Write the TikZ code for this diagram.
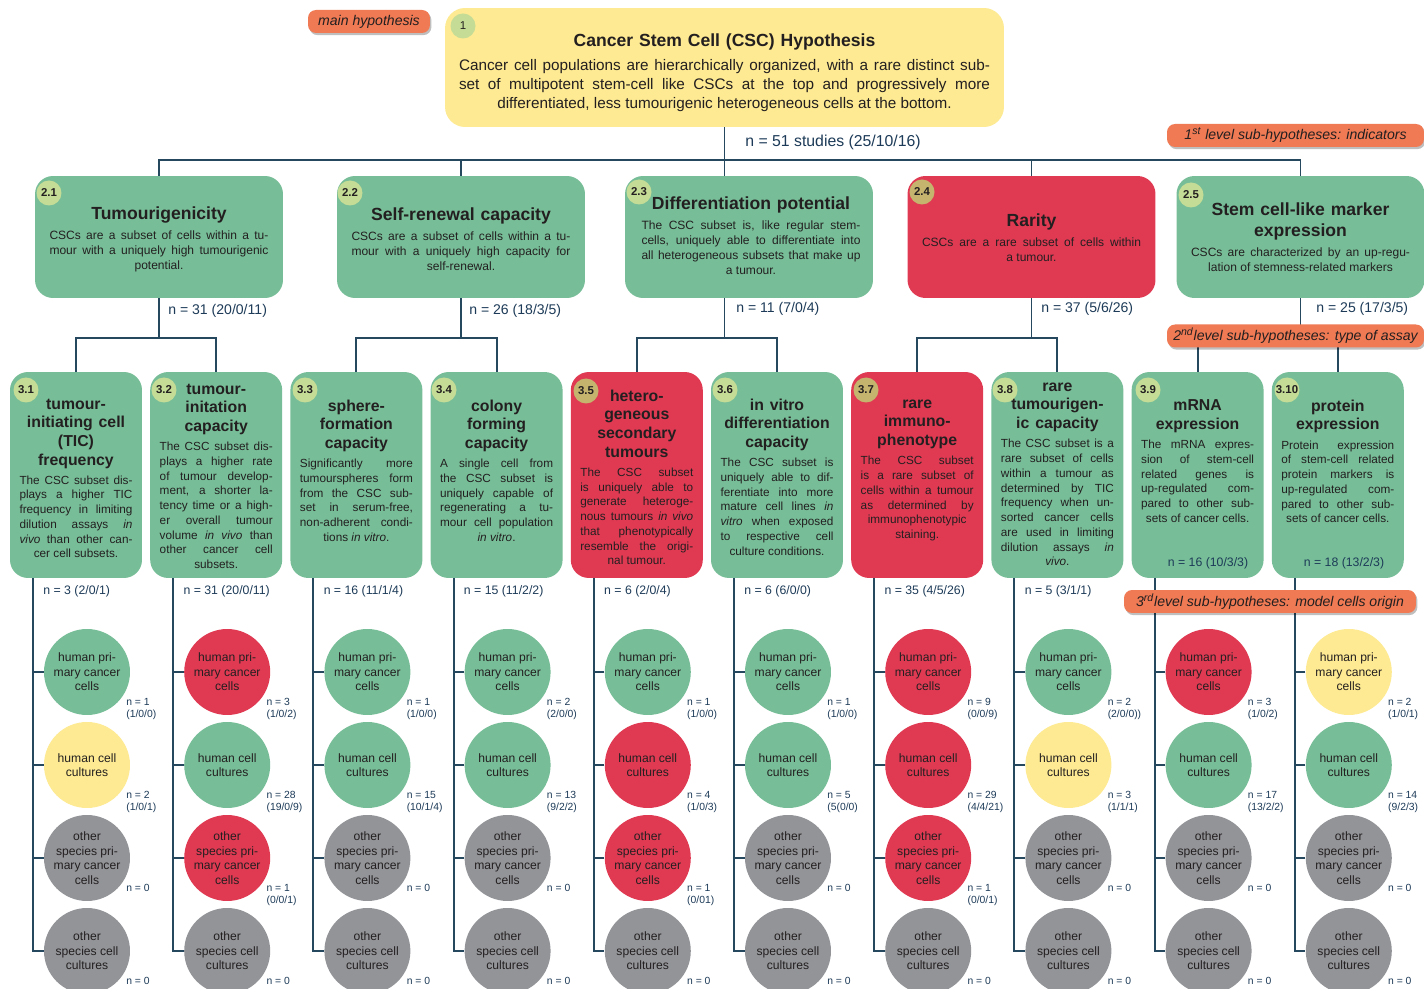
\documentclass[tikz,border=0pt]{standalone}
\usepackage{fontspec}
\setmainfont{Liberation Sans}
\usetikzlibrary{shadows}

\definecolor{support}{HTML}{77BE98}
\definecolor{reject}{HTML}{E03A53}
\definecolor{mixed}{HTML}{FDEA92}
\definecolor{nodata}{HTML}{939498}
\definecolor{badgeg}{HTML}{C5DC96}
\definecolor{badger}{HTML}{C4B46E}
\definecolor{tagfill}{HTML}{EF7A54}
\definecolor{linkc}{HTML}{26485E}
\definecolor{counttext}{HTML}{1D3B58}
\definecolor{inktext}{HTML}{231F20}

% justified lines, last line centred
\newcommand{\justlast}{\parindent=0pt\tolerance=9999\spaceskip=.278em plus .6em minus .12em\leftskip=0pt plus .5fil\rightskip=0pt plus -.5fil\parfillskip=0pt plus 1fil\relax}
\newcommand{\lvone}[2]{\parindent=0pt{\fontsize{10}{12}\bfseries\selectfont #1\par}\vspace{2.8pt}{\fontsize{8.7}{10.8}\selectfont\justlast #2\par}}
\newcommand{\lvtwo}[2]{\parindent=0pt{\fontsize{10}{11.9}\bfseries\selectfont #1\par}\vspace{3pt}{\fontsize{6.85}{8.5}\selectfont\justlast #2\par}}
\newcommand{\lvthree}[2]{\parindent=0pt{\fontsize{9}{10.6}\bfseries\selectfont #1\par}\vspace{2.5pt}{\fontsize{6.7}{8.4}\selectfont\justlast #2\par}}

\begin{document}
\begin{tikzpicture}[x=0.02cm, y=-0.02cm,
  link/.style={draw=linkc, line width=1.1pt},
  mainbox/.style={fill=mixed, rounded corners=0.4cm, minimum width=11.18cm, minimum height=2.38cm, inner sep=0},
  hypbox/.style={fill=support, rounded corners=0.36cm, minimum width=4.96cm, minimum height=2.44cm, inner sep=0},
  subbox/.style={fill=support, rounded corners=0.36cm, minimum width=2.64cm, minimum height=4.12cm, inner sep=0},
  boxtxt/.style={text=inktext, align=center, inner sep=0, anchor=north},
  badge/.style={circle, fill=badgeg, minimum size=0.5cm, inner sep=0, text=inktext, font=\fontsize{6.5}{7}\bfseries\selectfont},
  cell/.style={circle, minimum size=1.72cm, inner sep=0, align=center, text=inktext, font=\fontsize{6.9}{8.3}\selectfont},
  count/.style={text=counttext, inner sep=0, anchor=north west, align=left, font=\fontsize{5.9}{6.8}\selectfont},
  ntwo/.style={text=counttext, inner sep=0, anchor=west, font=\fontsize{8}{9}\selectfont},
  nthree/.style={text=counttext, inner sep=0, anchor=west, font=\fontsize{7}{8}\selectfont},
  tag/.style={fill=tagfill, rounded corners=0.16cm, minimum height=0.46cm, inner sep=0, text=inktext,
    font=\fontsize{8}{9}\itshape\selectfont, drop shadow={shadow xshift=0.8pt, shadow yshift=-1.2pt, fill=black, opacity=0.25}}]

\fill[white] (0,0) rectangle (1424,989);
\useasboundingbox (0,0) rectangle (1424,989);

\node[mainbox] (main) at (724.5,67.5) {};
\node[badge, font=\fontsize{6.5}{7}\selectfont] (g1) at (463,26) {1};
\node[boxtxt, text width=10.62cm] (t1) at (724.5,33.5) {\lvone{Cancer Stem Cell (CSC) Hypothesis}{Cancer cell populations are hierarchically organized, with a rare distinct sub-\linebreak set of multipotent stem-cell like CSCs at the top and progressively more\linebreak differentiated, less tumourigenic heterogeneous cells at the bottom.}};
\node[ntwo, font=\fontsize{9}{10}\selectfont] (n1) at (745,142) {n = 51 studies (25/10/16)};

\node[hypbox] (b21) at (159,237) {};
\node[hypbox] (b22) at (461,237) {};
\node[hypbox] (b23) at (749,237) {};
\node[hypbox, fill=reject] (b24) at (1031.5,237) {};
\node[hypbox] (b25) at (1300.5,237) {};

\node[badge] (g21) at (49,193) {2.1};
\node[badge] (g22) at (350,193) {2.2};
\node[badge] (g23) at (639,192) {2.3};
\node[badge, fill=badger] (g24) at (922,192) {2.4};
\node[badge] (g25) at (1191,195) {2.5};

\node[boxtxt, text width=4.38cm] (t21) at (159,206.5) {\lvtwo{Tumourigenicity}{CSCs are a subset of cells within a tu-\linebreak mour with a uniquely high tumourigenic\linebreak potential.}};
\node[boxtxt, text width=4.38cm] (t22) at (461,207.5) {\lvtwo{Self-renewal capacity}{CSCs are a subset of cells within a tu-\linebreak mour with a uniquely high capacity for\linebreak self-renewal.}};
\node[boxtxt, text width=4.38cm] (t23) at (751,196.5) {\lvtwo{Differentiation potential}{The CSC subset is, like regular stem-\linebreak cells, uniquely able to differentiate into\linebreak all heterogeneous subsets that make up\linebreak a tumour.}};
\node[boxtxt, text width=4.38cm] (t24) at (1031.5,213.5) {\lvtwo{Rarity}{CSCs are a rare subset of cells within\linebreak a tumour.}};
\node[boxtxt, text width=4.38cm] (t25) at (1300.5,202.5) {\lvtwo{Stem cell-like marker\\expression}{CSCs are characterized by an up-regu-\linebreak lation of stemness-related markers}};

\draw[link] (main.south) -- (main.south |- b23.north);
\draw[link] (main.south |- 0,160) coordinate (hub);
\draw[link] (b21.north) |- (hub) -| (b25.north);
\draw[link] (b22.north) -- (b22.north |- hub);
\draw[link] (b24.north) -- (b24.north |- hub);

\node[ntwo] (n21) at (168,311) {n = 31 (20/0/11)};
\node[ntwo] (n22) at (469,311) {n = 26 (18/3/5)};
\node[ntwo] (n23) at (736,309) {n = 11 (7/0/4)};
\node[ntwo] (n24) at (1041,309) {n = 37 (5/6/26)};
\node[ntwo] (n25) at (1316,309) {n = 25 (17/3/5)};

\node[subbox] (b31) at (76,475) {};
\node[subbox] (b32) at (216.2,475) {};
\node[subbox] (b33) at (356.4,475) {};
\node[subbox] (b34) at (496.6,475) {};
\node[subbox, fill=reject] (b35) at (636.8,475) {};
\node[subbox] (b36) at (777,475) {};
\node[subbox, fill=reject] (b37) at (917.2,475) {};
\node[subbox] (b38) at (1057.4,475) {};
\node[subbox] (b39) at (1197.6,475) {};
\node[subbox] (b310) at (1337.8,475) {};

\draw[link] (b21.south) -- (b21.south |- 0,338) coordinate (j1);
\draw[link] (b31.north) |- (j1) -| (b32.north);
\draw[link] (b22.south) -- (b22.south |- 0,338) coordinate (j2);
\draw[link] (b33.north) |- (j2) -| (b34.north);
\draw[link] (main.south |- b23.south) -- (main.south |- 0,338) coordinate (j3);
\draw[link] (b35.north) |- (j3) -| (b36.north);
\draw[link] (b24.south) -- (b24.south |- 0,338) coordinate (j4);
\draw[link] (b37.north) |- (j4) -| (b38.north);
\draw[link] (b25.south) -- (b25.south |- 0,338) coordinate (j5);
\draw[link] (b39.north) |- (j5) -| (b310.north);

\node[badge] (g31) at (26,390) {3.1};
\node[badge] (g32) at (164,390) {3.2};
\node[badge] (g33) at (305,390) {3.3};
\node[badge] (g34) at (444,390) {3.4};
\node[badge, fill=badger] (g35) at (586,391) {3.5};
\node[badge] (g36) at (725,390) {3.6};
\node[badge, fill=badger] (g37) at (866,390) {3.7};
\node[badge] (g38) at (1005,390) {3.8};
\node[badge] (g39) at (1148,390) {3.9};
\node[badge] (g310) at (1287,390) {3.10};

\node[boxtxt, text width=2.26cm] (t31) at (76,398.5) {\lvthree{tumour-\\initiating cell\\(TIC)\\frequency}{The CSC subset dis-\linebreak plays a higher TIC\linebreak frequency in limiting\linebreak dilution assays \emph{in}\linebreak \emph{vivo} than other can-\linebreak cer cell subsets.}};
\node[boxtxt, text width=2.26cm] (t32) at (216.2,383.5) {\lvthree{tumour-\\initation\\capacity}{The CSC subset dis-\linebreak plays a higher rate\linebreak of tumour develop-\linebreak ment, a shorter la-\linebreak tency time or a high-\linebreak er overall tumour\linebreak volume \emph{in vivo} than\linebreak other cancer cell\linebreak subsets.}};
\node[boxtxt, text width=2.26cm] (t33) at (356.4,399.5) {\lvthree{sphere-\\formation\\capacity}{Significantly more\linebreak tumourspheres form\linebreak from the CSC sub-\linebreak set in serum-free,\linebreak non-adherent condi-\linebreak tions \emph{in vitro}.}};
\node[boxtxt, text width=2.26cm] (t34) at (496.6,399.5) {\lvthree{colony\\forming\\capacity}{A single cell from\linebreak the CSC subset is\linebreak uniquely capable of\linebreak regenerating a tu-\linebreak mour cell population\linebreak \emph{in vitro}.}};
\node[boxtxt, text width=2.26cm] (t35) at (636.8,389.5) {\lvthree{hetero-\\geneous\\secondary\\tumours}{The CSC subset\linebreak is uniquely able to\linebreak generate heteroge-\linebreak nous tumours \emph{in vivo}\linebreak that phenotypically\linebreak resemble the origi-\linebreak nal tumour.}};
\node[boxtxt, text width=2.26cm] (t36) at (777,398.5) {\lvthree{in vitro\\differentiation\\capacity}{The CSC subset is\linebreak uniquely able to dif-\linebreak ferentiate into more\linebreak mature cell lines \emph{in}\linebreak \emph{vitro} when exposed\linebreak to respective cell\linebreak culture conditions.}};
\node[boxtxt, text width=2.26cm] (t37) at (917.2,399.5) {\lvthree{rare\\immuno-\\phenotype}{The CSC subset\linebreak is a rare subset of\linebreak cells within a tumour\linebreak as determined by\linebreak \makebox[\hsize]{immunophenotypic}\linebreak staining.}};
\node[boxtxt, text width=2.26cm] (t38) at (1057.4,382.5) {\lvthree{rare\\tumourigen-\\ic capacity}{The CSC subset is a\linebreak rare subset of cells\linebreak within a tumour as\linebreak determined by TIC\linebreak frequency when un-\linebreak sorted cancer cells\linebreak are used in limiting\linebreak dilution assays \emph{in}\linebreak \emph{vivo}.}};
\node[boxtxt, text width=2.26cm] (t39) at (1197.6,399.5) {\lvthree{mRNA\\expression}{The mRNA expres-\linebreak sion of stem-cell\linebreak related genes is\linebreak up-regulated com-\linebreak pared to other sub-\linebreak sets of cancer cells.}};
\node[boxtxt, text width=2.26cm] (t310) at (1337.8,399.5) {\lvthree{protein\\expression}{Protein expression\linebreak of stem-cell related\linebreak protein markers is\linebreak up-regulated com-\linebreak pared to other sub-\linebreak sets of cancer cells.}};

\foreach \i/\t in {1/{n = 3 (2/0/1)}, 2/{n = 31 (20/0/11)}, 3/{n = 16 (11/1/4)}, 4/{n = 15 (11/2/2)},
                   5/{n = 6 (2/0/4)}, 6/{n = 6 (6/0/0)}, 7/{n = 35 (4/5/26)}, 8/{n = 5 (3/1/1)}}{
  \pgfmathsetmacro\nx{43+140.2*(\i-1)}
  \node[nthree] (n3\i) at (\nx,591) {\t};
}
\node[nthree, anchor=center] (n39) at (1208,563) {n = 16 (10/3/3)};
\node[nthree, anchor=center] (n310) at (1344,563) {n = 18 (13/2/3)};

\foreach \i/\fa/\fb/\fc/\na/\nb/\nc in {
  1/support/mixed/nodata/{n = 1\\(1/0/0)}/{n = 2\\(1/0/1)}/{n = 0},
  2/reject/support/reject/{n = 3\\(1/0/2)}/{n = 28\\(19/0/9)}/{n = 1\\(0/0/1)},
  3/support/support/nodata/{n = 1\\(1/0/0)}/{n = 15\\(10/1/4)}/{n = 0},
  4/support/support/nodata/{n = 2\\(2/0/0)}/{n = 13\\(9/2/2)}/{n = 0},
  5/support/reject/reject/{n = 1\\(1/0/0)}/{n = 4\\(1/0/3)}/{n = 1\\(0/01)},
  6/support/support/nodata/{n = 1\\(1/0/0)}/{n = 5\\(5(0/0)}/{n = 0},
  7/reject/reject/reject/{n = 9\\(0/0/9)}/{n = 29\\(4/4/21)}/{n = 1\\(0/0/1)},
  8/support/mixed/nodata/{n = 2\\(2/0/0))}/{n = 3\\(1/1/1)}/{n = 0},
  9/reject/support/nodata/{n = 3\\(1/0/2)}/{n = 17\\(13/2/2)}/{n = 0},
  10/mixed/support/nodata/{n = 2\\(1/0/1)}/{n = 14\\(9/2/3)}/{n = 0}}{
  \pgfmathsetmacro\lx{33+140.2*(\i-1)}
  \pgfmathsetmacro\cx{\lx+54}
  \pgfmathsetmacro\tx{\cx+39}
  \coordinate (s\i) at (\lx,578);
  \node[cell, fill=\fa] (c\i-1) at (\cx,672) {human pri-\\mary cancer\\cells};
  \node[cell, fill=\fb] (c\i-2) at (\cx,765) {human cell\\cultures};
  \node[cell, fill=\fc] (c\i-3) at (\cx,858) {other\\species pri-\\mary cancer\\cells};
  \node[cell, fill=nodata] (c\i-4) at (\cx,951) {other\\species cell\\cultures};
  \node[count] (m\i-1) at (\tx,698) {\na};
  \node[count] (m\i-2) at (\tx,791) {\nb};
  \node[count] (m\i-3) at (\tx,884) {\nc};
  \node[count] (m\i-4) at (\tx,977) {n = 0};
  \draw[link] (s\i) |- (c\i-4.west);
  \foreach \k in {1,2,3}
    \draw[link] (c\i-\k.west) -- (c\i-\k.west -| s\i);
}

\node[tag, minimum width=2.44cm] (tagmain) at (369,21.5) {main hypothesis};
\node[tag, minimum width=5.14cm] (tag1) at (1295.5,135.5) {1\textsuperscript{st} level sub-hypotheses: indicators};
\node[tag, minimum width=5.14cm] (tag2) at (1295.5,336) {2\textsuperscript{nd}level sub-hypotheses: type of assay};
\node[tag, minimum width=5.84cm] (tag3) at (1270,601.5) {3\textsuperscript{rd}level sub-hypotheses: model cells origin};

\end{tikzpicture}
\end{document}
